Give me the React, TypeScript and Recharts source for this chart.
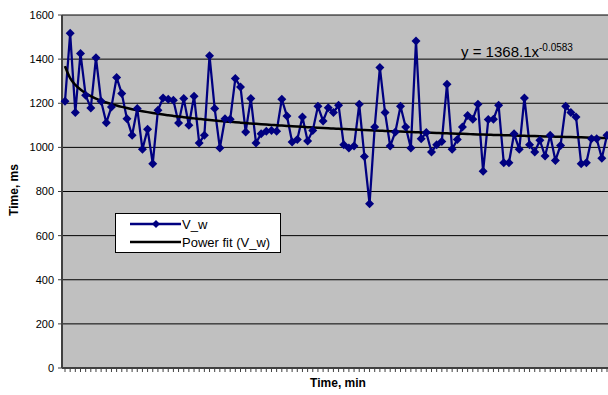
import React from 'react';
import {
  CartesianGrid,
  ComposedChart,
  Line,
  XAxis,
  YAxis,
} from 'recharts';

// measured V_w, one value per minute
const vw = [
  1209, 1517, 1158, 1426, 1236, 1179, 1406, 1209, 1112, 1183,
  1317, 1244, 1130, 1055, 1176, 991, 1082, 926, 1168, 1224,
  1218, 1214, 1111, 1221, 1100, 1232, 1020, 1055, 1415, 1176,
  997, 1130, 1127, 1312, 1274, 1070, 1221, 1020, 1062, 1073,
  1077, 1073, 1218, 1142, 1024, 1036, 1138, 1029, 1077, 1186,
  1120, 1180, 1158, 1191, 1012, 997, 1006, 1195, 959, 744,
  1092, 1362, 1158, 1006, 1070, 1186, 1092, 997, 1482, 1039,
  1067, 979, 1012, 1027, 1286, 991, 1036, 1092, 1145, 1127,
  1195, 892, 1126, 1127, 1191, 930, 930, 1062, 991, 1224,
  1012, 979, 1032, 961, 1055, 941, 1009, 1186, 1158, 1138,
  926, 930, 1039, 1039, 951, 1055,
];
const minutes = vw.map((_, i) => i + 1);
const yTicks = [0, 200, 400, 600, 800, 1000, 1200, 1400, 1600];
const seriesNames = ['V_w', 'Power fit (V_w)'];
// coefficients printed on the chart: y = 1368.1x^-0.0583
const fitCoef = [1368.1, -0.0583];

const data = minutes.map((m, i) => ({
  t: m,
  v: vw[i],
  fit: fitCoef[0] * Math.pow(m, fitCoef[1]),
}));

const NAVY = '#000080';
const FONT = '"Liberation Sans", Arial, sans-serif';

const Diamond = (props: any) => {
  const { cx, cy } = props;
  if (cx == null || cy == null) return <g />;
  const r = 4.5;
  return (
    <path
      d={`M${cx},${cy - r}L${cx + r},${cy}L${cx},${cy + r}L${cx - r},${cy}Z`}
      fill={NAVY}
      stroke="none"
    />
  );
};

const App = () => {
  return (
    <div
      style={{
        position: 'fixed',
        left: 0,
        top: 0,
        width: 608,
        height: 395,
        overflow: 'hidden',
        background: '#fff',
        fontFamily: FONT,
      }}
    >
      <ComposedChart
        width={610}
        height={395}
        data={data}
        margin={{ top: 15, right: 0, bottom: 0, left: 0 }}
      >
        <CartesianGrid
          vertical={false}
          stroke="#000"
          fill="#C0C0C0"
          fillOpacity={1}
        />
        <XAxis
          dataKey="t"
          type="category"
          interval={0}
          height={27}
          padding={{ left: 3, right: 3 }}
          tick={() => <g />}
          tickSize={4}
          axisLine={{ stroke: '#404040', strokeWidth: 2 }}
          tickLine={{ stroke: '#404040' }}
        />
        <YAxis
          width={62}
          domain={[0, 1600]}
          ticks={yTicks}
          interval={0}
          tickSize={4}
          tickMargin={4}
          axisLine={{ stroke: '#404040', strokeWidth: 2 }}
          tickLine={{ stroke: '#404040' }}
          tick={{ fill: '#000', fontSize: 11, fontFamily: FONT }}
        />
        <Line
          dataKey="v"
          name={seriesNames[0]}
          stroke={NAVY}
          strokeWidth={2.25}
          dot={<Diamond />}
          activeDot={false}
          isAnimationActive={false}
        />
        <Line
          dataKey="fit"
          name={seriesNames[1]}
          type="monotone"
          stroke="#000"
          strokeWidth={2.5}
          dot={false}
          activeDot={false}
          isAnimationActive={false}
        />
      </ComposedChart>

      <div
        style={{
          position: 'absolute',
          left: 14,
          top: 190,
          transform: 'translate(-50%, -50%) rotate(-90deg)',
          fontSize: 12,
          fontWeight: 'bold',
          whiteSpace: 'nowrap',
        }}
      >
        Time, ms
      </div>
      <div
        style={{
          position: 'absolute',
          left: 338,
          top: 383,
          transform: 'translate(-50%, -50%)',
          fontSize: 12,
          fontWeight: 'bold',
          whiteSpace: 'nowrap',
        }}
      >
        Time, min
      </div>

      <div
        style={{
          position: 'absolute',
          left: 461,
          top: 40,
          fontSize: 15,
          lineHeight: '15px',
          whiteSpace: 'nowrap',
        }}
      >
        y = {fitCoef[0]}x
        <sup style={{ fontSize: 10, verticalAlign: 6 }}>{fitCoef[1]}</sup>
      </div>

      <div
        style={{
          position: 'absolute',
          left: 115,
          top: 213,
          width: 166,
          height: 40,
          boxSizing: 'border-box',
          border: '1px solid #000',
          background: '#fff',
          fontSize: 13,
          paddingTop: 1,
        }}
      >
        {seriesNames.map((name, i) => (
          <div
            key={name}
            style={{ display: 'flex', alignItems: 'center', height: 18 }}
          >
            <svg width={66} height={18} style={{ flex: 'none' }}>
              <line
                x1={14}
                x2={65}
                y1={9}
                y2={9}
                stroke={i === 0 ? NAVY : '#000'}
                strokeWidth={2.5}
              />
              {i === 0 && <path d="M40,5L44,9L40,13L36,9Z" fill={NAVY} />}
            </svg>
            <span style={{ whiteSpace: 'nowrap' }}>{name}</span>
          </div>
        ))}
      </div>
    </div>
  );
};

export default App;
